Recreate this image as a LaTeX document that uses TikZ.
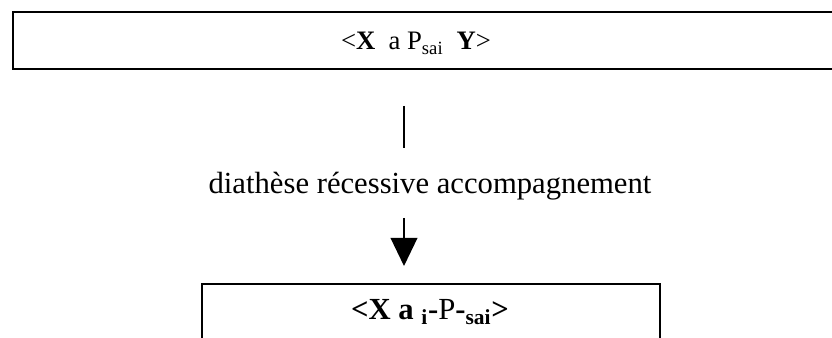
\documentclass[tikz,border=0pt]{standalone}
\usepackage{fontspec}
\setmainfont{Liberation Serif}
\usetikzlibrary{arrows.meta}
\begin{document}
\begin{tikzpicture}[x=0.75pt,y=-0.75pt,
  frame/.style={draw,line width=1.3pt},
  lbl/.style={font=\fontsize{20}{22}\selectfont,inner sep=0pt,anchor=base},
  big/.style={font=\fontsize{23}{25}\selectfont,inner sep=0pt,anchor=base},
  conn/.style={line width=1.1pt},
  tip/.style={-{Triangle[length=21pt,width=20pt]}}]
\useasboundingbox (0,0) rectangle (832,338);
\begin{scope}
\clip (0,0) rectangle (832,338);
\draw[frame] (13,12) rectangle (845,69);
\draw[frame] (202,284) rectangle (660,360);
\end{scope}
\node[lbl] (top) at (416,50) {<\textbf{X}~~a P\textsubscript{sai}~~\textbf{Y}>};
\coordinate (l1) at (404,106);
\coordinate (l2) at (404,148);
\draw[conn] (l1) -- (l2);
\node[big] (mid) at (430,194) {diathèse récessive accompagnement};
\coordinate (a1) at (404,218);
\coordinate (a2) at (404,266);
\draw[conn,tip] (a1) -- (a2);
\node[big] (bot) at (430,320) {\textbf{<X a \textsubscript{i}-}P\textbf{-\textsubscript{sai}>}};
\end{tikzpicture}
\end{document}
